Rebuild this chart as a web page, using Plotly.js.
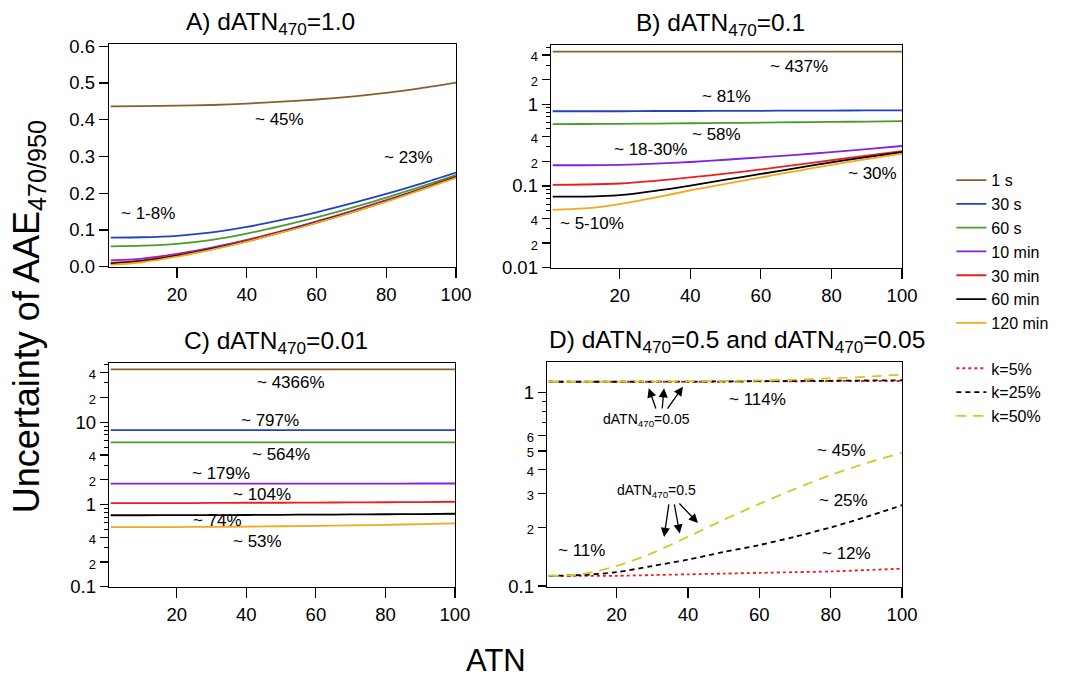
<!DOCTYPE html>
<html><head><meta charset="utf-8">
<script src="https://cdn.plot.ly/plotly-3.0.1.min.js"></script>
<style>html,body{margin:0;padding:0;background:#fff}#chart{width:1091px;height:677px}</style>
</head><body><div id="chart"></div>
<script>
// ---------- DATA ----------
const ATN = [1, 10, 20, 30, 40, 50, 60, 70, 80, 90, 100];
const seriesNames = ['1 s', '30 s', '60 s', '10 min', '30 min', '60 min', '120 min'];

// Panel A: dATN470 = 1.0
const A_1s    = [0.436, 0.437, 0.438, 0.440, 0.444, 0.449, 0.455, 0.463, 0.473, 0.486, 0.501];
const A_30s   = [0.079, 0.080, 0.084, 0.093, 0.108, 0.127, 0.148, 0.172, 0.198, 0.226, 0.256];
const A_60s   = [0.055, 0.057, 0.062, 0.073, 0.090, 0.111, 0.134, 0.160, 0.188, 0.218, 0.249];
const A_10min = [0.017, 0.022, 0.035, 0.052, 0.073, 0.097, 0.123, 0.151, 0.181, 0.212, 0.245];
const A_30min = [0.010, 0.017, 0.031, 0.049, 0.071, 0.095, 0.121, 0.149, 0.179, 0.211, 0.245];
const A_60min = [0.008, 0.015, 0.029, 0.048, 0.069, 0.094, 0.120, 0.148, 0.178, 0.210, 0.243];
const A_120min= [0.005, 0.012, 0.027, 0.046, 0.068, 0.093, 0.119, 0.147, 0.177, 0.209, 0.242];

// Panel B: dATN470 = 0.1
const B_1s    = [4.40, 4.40, 4.40, 4.40, 4.40, 4.40, 4.40, 4.40, 4.40, 4.40, 4.40];
const B_30s   = [0.820, 0.820, 0.820, 0.825, 0.825, 0.830, 0.830, 0.835, 0.835, 0.840, 0.840];
const B_60s   = [0.570, 0.572, 0.575, 0.579, 0.584, 0.589, 0.595, 0.601, 0.607, 0.613, 0.620];
const B_10min = [0.179, 0.179, 0.181, 0.187, 0.196, 0.209, 0.224, 0.240, 0.259, 0.282, 0.308];
const B_30min = [0.103, 0.104, 0.107, 0.115, 0.127, 0.141, 0.159, 0.181, 0.206, 0.235, 0.267];
const B_60min = [0.074, 0.074, 0.077, 0.087, 0.101, 0.119, 0.140, 0.165, 0.194, 0.225, 0.258];
const B_120min= [0.051, 0.053, 0.060, 0.072, 0.088, 0.106, 0.127, 0.152, 0.181, 0.213, 0.248];

// Panel C: dATN470 = 0.01
const C_1s    = [44, 44, 44, 44, 44, 44, 44, 44, 44, 44, 44];
const C_30s   = [8.0, 8.0, 8.0, 8.0, 8.0, 8.0, 8.0, 8.0, 8.0, 8.0, 8.0];
const C_60s   = [5.7, 5.7, 5.7, 5.7, 5.7, 5.7, 5.7, 5.7, 5.7, 5.7, 5.7];
const C_10min = [1.79, 1.79, 1.79, 1.79, 1.79, 1.79, 1.79, 1.79, 1.79, 1.80, 1.80];
const C_30min = [1.04, 1.04, 1.04, 1.045, 1.05, 1.05, 1.055, 1.06, 1.065, 1.07, 1.08];
const C_60min = [0.740, 0.740, 0.742, 0.744, 0.746, 0.750, 0.753, 0.757, 0.761, 0.766, 0.772];
const C_120min= [0.530, 0.530, 0.532, 0.535, 0.539, 0.544, 0.550, 0.557, 0.566, 0.577, 0.590];

// Panel D: dATN470 = 0.05 and 0.5, k = 5%, 25%, 50%
const kNames = ['k=5%', 'k=25%', 'k=50%'];
const D005_k5  = [1.14, 1.14, 1.14, 1.14, 1.14, 1.14, 1.145, 1.145, 1.15, 1.15, 1.15];
const D005_k25 = [1.14, 1.14, 1.14, 1.14, 1.142, 1.145, 1.148, 1.15, 1.153, 1.157, 1.16];
const D005_k50 = [1.14, 1.14, 1.14, 1.142, 1.146, 1.151, 1.158, 1.17, 1.187, 1.21, 1.24];
const D05_k5   = [0.113, 0.113, 0.113, 0.114, 0.115, 0.116, 0.117, 0.118, 0.119, 0.121, 0.123];
const D05_k25  = [0.113, 0.114, 0.118, 0.127, 0.137, 0.150, 0.163, 0.180, 0.201, 0.228, 0.262];
const D05_k50  = [0.113, 0.115, 0.127, 0.148, 0.180, 0.220, 0.266, 0.318, 0.375, 0.432, 0.489];

// ---------- STYLE ----------
const FONT = 'Arial, "Liberation Sans", Helvetica, sans-serif';
const colors = ['#86602f', '#2242c4', '#4c9c2a', '#8024e0', '#e8201e', '#000000', '#f5a818'];
const kColors = ['#ee1c1c', '#000000', '#cccc22'];
const kDash = ['dot', '5px,4px', '10px,7px'];

const traces = [];
function addPanel(arrs, xa, ya, showLeg) {
  arrs.forEach((arr, i) => {
    traces.push({
      x: ATN, y: arr, xaxis: xa, yaxis: ya, type: 'scatter', mode: 'lines',
      name: seriesNames[i], line: {color: colors[i], width: 1.8, shape: 'spline', smoothing: 0.8},
      showlegend: showLeg, legend: 'legend'
    });
  });
}
addPanel([A_1s, A_30s, A_60s, A_10min, A_30min, A_60min, A_120min], 'x', 'y', true);
addPanel([B_1s, B_30s, B_60s, B_10min, B_30min, B_60min, B_120min], 'x2', 'y2', false);
addPanel([C_1s, C_30s, C_60s, C_10min, C_30min, C_60min, C_120min], 'x3', 'y3', false);
[D005_k5, D005_k25, D005_k50].forEach((arr, i) => traces.push({
  x: ATN, y: arr, xaxis: 'x4', yaxis: 'y4', type: 'scatter', mode: 'lines', name: kNames[i],
  line: {color: kColors[i], width: 1.8, dash: kDash[i], shape: 'spline', smoothing: 0.8}, showlegend: true, legend: 'legend2'
}));
[D05_k5, D05_k25, D05_k50].forEach((arr, i) => traces.push({
  x: ATN, y: arr, xaxis: 'x4', yaxis: 'y4', type: 'scatter', mode: 'lines', name: kNames[i],
  line: {color: kColors[i], width: 1.8, dash: kDash[i], shape: 'spline', smoothing: 0.8}, showlegend: false, legend: 'legend2'
}));

const sm = t => '<span style="font-size:13px">' + t + '</span>';
const axBase = {
  showline: true, linecolor: 'black', linewidth: 1.3, mirror: true, showgrid: false, zeroline: false,
  ticks: 'outside', ticklen: 9, tickwidth: 1.2, tickcolor: 'black',
  tickfont: {family: FONT, size: 18.5, color: 'black', weight: 'normal'}
};
const xBase = Object.assign({}, axBase, {range: [0.5, 100], tickmode: 'linear', tick0: 0, dtick: 20, ticklen: 10});
const minorBase = {ticks: 'outside', ticklen: 4, tickwidth: 1, tickcolor: 'black'};

const layout = {
  width: 1091, height: 677, margin: {l: 0, r: 0, t: 0, b: 0},
  paper_bgcolor: 'white', plot_bgcolor: 'white', hovermode: false,
  font: {family: FONT, color: 'black'},
  xaxis:  Object.assign({}, xBase, {domain: [0.0999, 0.418], anchor: 'y'}),
  xaxis2: Object.assign({}, xBase, {domain: [0.505, 0.8268], anchor: 'y2'}),
  xaxis3: Object.assign({}, xBase, {domain: [0.0999, 0.417], anchor: 'y3'}),
  xaxis4: Object.assign({}, xBase, {domain: [0.5014, 0.8268], anchor: 'y4'}),
  yaxis: Object.assign({}, axBase, {domain: [0.6056, 0.935], anchor: 'x', range: [-0.001, 0.606],
    tickmode: 'linear', tick0: 0, dtick: 0.1, tickformat: '.1f'}),
  yaxis2: Object.assign({}, axBase, {domain: [0.6041, 0.9335], anchor: 'x2', type: 'log', range: [-2.005, 0.724],
    tickmode: 'array', ticklen: 8,
    tickvals: [0.01, 0.02, 0.04, 0.1, 0.2, 0.4, 1, 2, 4],
    ticktext: ['0.01', sm('2'), sm('4'), '0.1', sm('2'), sm('4'), '1', sm('2'), sm('4')],
    minor: Object.assign({}, minorBase, {tickvals: [0.03, 0.05, 0.06, 0.07, 0.08, 0.09, 0.3, 0.5, 0.6, 0.7, 0.8, 0.9, 3, 5]})}),
  yaxis3: Object.assign({}, axBase, {domain: [0.1329, 0.4638], anchor: 'x3', type: 'log', range: [-1.003, 1.72],
    tickmode: 'array', ticklen: 8,
    tickvals: [0.1, 0.2, 0.4, 1, 2, 4, 10, 20, 40],
    ticktext: ['0.1', sm('2'), sm('4'), '1', sm('2'), sm('4'), '10', sm('2'), sm('4')],
    minor: Object.assign({}, minorBase, {tickvals: [0.3, 0.5, 0.6, 0.7, 0.8, 0.9, 3, 5, 6, 7, 8, 9, 30, 50]})}),
  yaxis4: Object.assign({}, axBase, {domain: [0.1329, 0.4653], anchor: 'x4', type: 'log', range: [-1.005, 0.159],
    tickmode: 'array', ticklen: 8,
    tickvals: [0.1, 0.2, 0.3, 0.4, 0.5, 0.6, 1],
    ticktext: ['0.1', sm('2'), sm('3'), sm('4'), sm('5'), sm('6'), '1'],
    minor: Object.assign({}, minorBase, {tickvals: [0.7, 0.8, 0.9]})}),
  legend: {x: 0.872, y: 0.759, xanchor: 'left', yanchor: 'top', bgcolor: 'rgba(0,0,0,0)',
    font: {family: FONT, size: 16, color: 'black'}, tracegroupgap: 0},
  legend2: {x: 0.872, y: 0.481, xanchor: 'left', yanchor: 'top', bgcolor: 'rgba(0,0,0,0)',
    font: {family: FONT, size: 16, color: 'black'}, tracegroupgap: 0},
  annotations: []
};

// Panel titles
const titles = [
  ['A) dATN<sub>470</sub>=1.0', 0.2475, 'y'],
  ['B) dATN<sub>470</sub>=0.1', 0.66, 'y2'],
  ['C) dATN<sub>470</sub>=0.01', 0.253, 'y3'],
  ['D) dATN<sub>470</sub>=0.5 and dATN<sub>470</sub>=0.05', 0.6755, 'y4']
];
titles.forEach(t => layout.annotations.push({
  text: t[0], xref: 'paper', yref: t[2] + ' domain', x: t[1], y: 1, xanchor: 'center', yanchor: 'bottom',
  yshift: 3, showarrow: false, font: {family: FONT, size: 24.5, color: 'black'}
}));

// Value labels
const lbl = (text, xa, ya, x, y, isLog, size) => layout.annotations.push({
  text: text, xref: xa, yref: ya, x: x, y: isLog ? Math.log10(y) : y, showarrow: false,
  xanchor: 'center', yanchor: 'middle', font: {family: FONT, size: size || 17, color: 'black'}
});
lbl('~ 45%', 'x', 'y', 49.4, 0.40, false);
lbl('~ 23%', 'x', 'y', 86.4, 0.296, false);
lbl('~ 1-8%', 'x', 'y', 11.7, 0.144, false);
lbl('~ 437%', 'x2', 'y2', 70.8, 2.87, true);
lbl('~ 81%', 'x2', 'y2', 50.3, 1.23, true);
lbl('~ 58%', 'x2', 'y2', 47.5, 0.428, true);
lbl('~ 18-30%', 'x2', 'y2', 28.8, 0.278, true);
lbl('~ 30%', 'x2', 'y2', 91.6, 0.1436, true);
lbl('~ 5-10%', 'x2', 'y2', 12, 0.0344, true);
lbl('~ 4366%', 'x3', 'y3', 52.8, 30.1, true);
lbl('~ 797%', 'x3', 'y3', 46.8, 10.4, true);
lbl('~ 564%', 'x3', 'y3', 50, 4.04, true);
lbl('~ 179%', 'x3', 'y3', 32.8, 2.37, true);
lbl('~ 104%', 'x3', 'y3', 44.6, 1.32, true);
lbl('~ 74%', 'x3', 'y3', 31.8, 0.638, true);
lbl('~ 53%', 'x3', 'y3', 43.1, 0.355, true);
lbl('~ 114%', 'x4', 'y4', 59.4, 0.928, true);
lbl('~ 45%', 'x4', 'y4', 83, 0.505, true);
lbl('~ 25%', 'x4', 'y4', 83.6, 0.278, true);
lbl('~ 11%', 'x4', 'y4', 10.2, 0.153, true);
lbl('~ 12%', 'x4', 'y4', 84.4, 0.147, true);
lbl('dATN<sub>470</sub>=0.05', 'x4', 'y4', 28.3, 0.722, true, 14);
lbl('dATN<sub>470</sub>=0.5', 'x4', 'y4', 31.1, 0.31, true, 14);

// Arrows in panel D
const arrow = (x, y, ax, ay) => layout.annotations.push({
  text: '', xref: 'x4', yref: 'y4', x: x, y: Math.log10(y), ax: ax, ay: ay, showarrow: true,
  arrowhead: 2, arrowsize: 1.4, arrowwidth: 1.3, arrowcolor: 'black', standoff: 0, startstandoff: 0
});
arrow(29, 1.054, 7.7, 21.7);
arrow(33.3, 1.054, -2, 21.7);
arrow(38.6, 1.074, -16.6, 23.3);
arrow(33.3, 0.1795, 5, -34);
arrow(37.7, 0.187, -5.7, -30.6);
arrow(42.8, 0.212, -20, -21);

// Axis titles
layout.annotations.push({
  text: 'Uncertainty of AAE<sub>470/950</sub>', xref: 'paper', yref: 'paper', x: 0.026, y: 0.532,
  xanchor: 'center', yanchor: 'middle', textangle: -90, showarrow: false,
  font: {family: FONT, size: 36, color: 'black'}
});
layout.annotations.push({
  text: 'ATN', xref: 'paper', yref: 'paper', x: 0.4546, y: 0.024, xanchor: 'center', yanchor: 'middle',
  showarrow: false, font: {family: FONT, size: 31, color: 'black'}
});

Plotly.newPlot('chart', traces, layout, {staticPlot: true, displayModeBar: false});
</script>
</body></html>
